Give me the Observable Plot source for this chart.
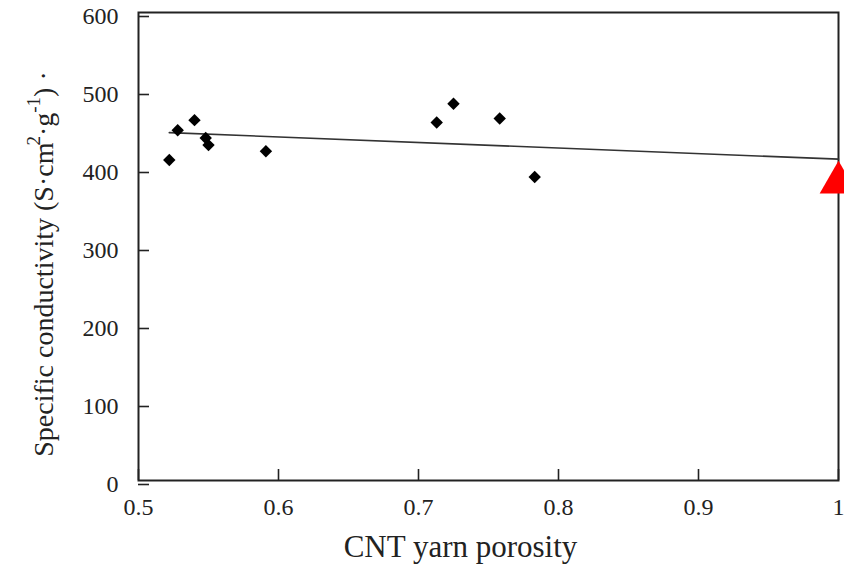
<!DOCTYPE html>
<html>
<head>
<meta charset="utf-8">
<script src="https://cdn.jsdelivr.net/npm/d3@7"></script>
<script src="https://cdn.jsdelivr.net/npm/@observablehq/plot@0.6"></script>
<style>
  html, body { margin: 0; padding: 0; background: #fff; }
  #chart { width: 844px; height: 567px; overflow: hidden; }
</style>
</head>
<body>
<div id="chart"></div>
<script>
// Measured yarns: porosity vs. specific conductivity
const porosity = [0.522, 0.528, 0.540, 0.548, 0.550, 0.591, 0.713, 0.725, 0.758, 0.783];
const conductivity = [411, 449, 462, 439, 430, 422, 459, 483, 464, 389];

// Reference value at porosity 1 (red triangle)
const refPorosity = [1.0];
const refConductivity = [382];

// Linear trend line endpoints
const fitPorosity = [0.522, 1.0];
const fitConductivity = [446, 412];

// Axis ticks
const xTicks = [0.5, 0.6, 0.7, 0.8, 0.9, 1];
const yTicks = [0, 100, 200, 300, 400, 500, 600];

const points = porosity.map((p, i) => ({p, c: conductivity[i]}));
const ref = refPorosity.map((p, i) => ({p, c: refConductivity[i]}));
const fit = fitPorosity.map((p, i) => ({p, c: fitConductivity[i]}));

const ink = "#222";
const serif = "Liberation Serif";

const plot = Plot.plot({
  width: 844,
  height: 567,
  marginLeft: 138,
  marginRight: 6,
  marginTop: 12,
  marginBottom: 87,
  style: {fontFamily: serif, fontSize: "24px", color: ink, background: "#fff", overflow: "visible"},
  x: {domain: [0.5, 1]},
  y: {domain: [0, 600]},
  marks: [
    Plot.axisX({ticks: xTicks, tickSize: -11, tickPadding: 28, tickFormat: d => String(d), label: null, stroke: ink, strokeWidth: 1.6, fontSize: 24, fontFamily: serif}),
    Plot.axisY({ticks: yTicks, tickSize: -11, tickPadding: 31, tickFormat: d => String(d), label: null, stroke: ink, strokeWidth: 1.6, fontSize: 24, fontFamily: serif, dy: 4}),
    Plot.frame({stroke: ink, strokeWidth: 2}),
    Plot.line(fit, {x: "p", y: "c", stroke: "#333", strokeWidth: 1.6}),
    Plot.dot(points, {x: "p", y: "c", symbol: "diamond2", r: 5.6, fill: "#000", stroke: "none"}),
    Plot.dot(ref, {x: "p", y: "c", symbol: "triangle", r: 14, fill: "#ff0000", stroke: "none"}),
    Plot.text(["CNT yarn porosity"], {text: d => d, frameAnchor: "bottom", dx: -28, dy: 76, fontSize: 31, fontFamily: serif, fill: ink})
  ]
});

document.getElementById("chart").appendChild(plot);

// Y axis title with superscripts, rotated along the left edge
const svg = d3.select(plot);
const yMid = (plot.scale("y").range[0] + plot.scale("y").range[1]) / 2;
const label = svg.append("text")
  .attr("transform", `translate(53,${yMid + 18}) rotate(-90)`)
  .attr("text-anchor", "middle")
  .attr("font-size", 28)
  .attr("fill", ink);
label.append("tspan").text("Specific conductivity (S\u00b7cm");
label.append("tspan").attr("font-size", 19).attr("dy", -13).attr("dx", -3).text("2");
label.append("tspan").attr("dy", 13).text("\u00b7g");
label.append("tspan").attr("font-size", 19).attr("dy", -13).text("-1");
label.append("tspan").attr("dy", 13).text(") \u00b7");

// Serif face on every text element
svg.selectAll("text").style("font-family", `"${serif}", serif`);
</script>
</body>
</html>
